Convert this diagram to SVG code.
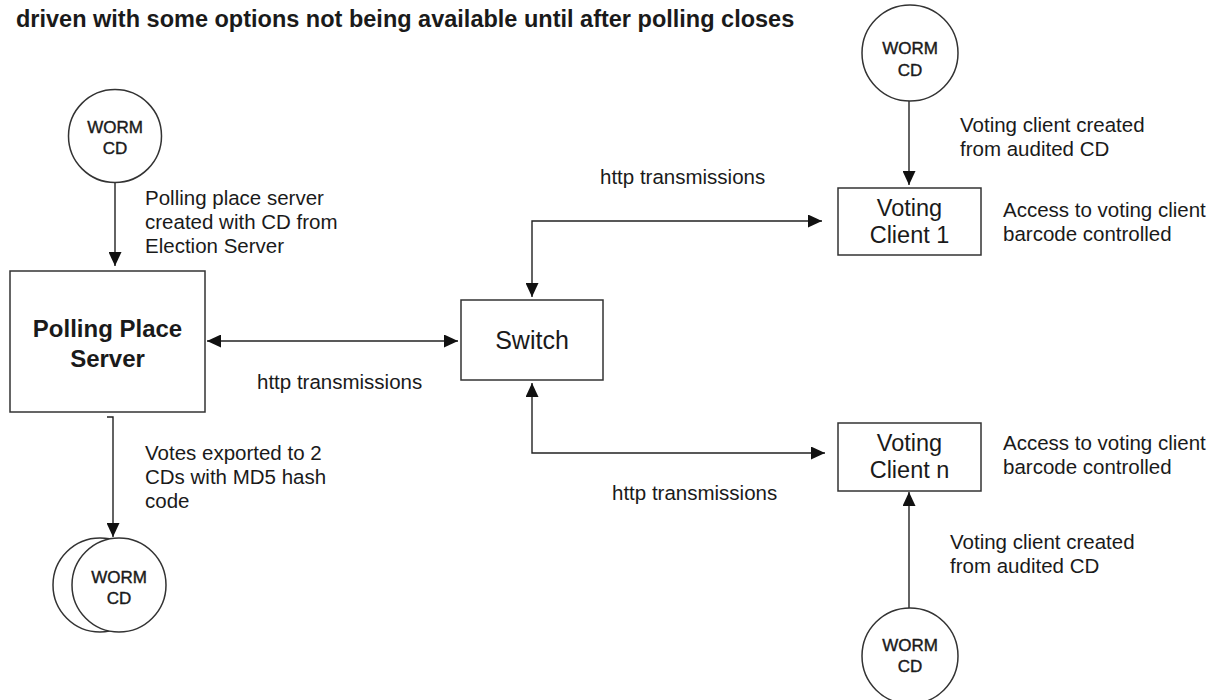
<svg xmlns="http://www.w3.org/2000/svg" width="1226" height="700" viewBox="0 0 1226 700">
<defs>
<style>
text{font-family:"Liberation Sans",Arial,Helvetica,sans-serif;fill:#1a1a1a}
.title{font-size:23.5px;font-weight:bold}
.lbl{font-size:20.5px}
.cd{font-size:17px;text-anchor:middle;stroke:#1a1a1a;stroke-width:0.4}
.box{fill:#fff;stroke:#333;stroke-width:1.5}
.disc{fill:#fff;stroke:#333;stroke-width:1.5}
.bold{font-size:24px;font-weight:bold;text-anchor:middle}
.vc{font-size:23.5px;text-anchor:middle}
.sw{font-size:25px;text-anchor:middle}
.conn{fill:none;stroke:#222;stroke-width:1.4}
</style>
<marker id="ah" viewBox="0 0 14 13" refX="14" refY="6.5" markerWidth="14" markerHeight="13" markerUnits="userSpaceOnUse" orient="auto-start-reverse">
<path d="M0,0 L14,6.5 L0,13 Z" fill="#111"/>
</marker>
</defs>
<rect width="1226" height="700" fill="#fff"/>
<text class="title" x="16" y="27">driven with some options not being available until after polling closes</text>

<g id="connectors">
<path class="conn" d="M115,183 V266" marker-end="url(#ah)"/>
<path class="conn" d="M107,417 H113 V537" marker-end="url(#ah)"/>
<path class="conn" d="M207,341 H458" marker-start="url(#ah)" marker-end="url(#ah)"/>
<path class="conn" d="M532,297 V221 H822" marker-start="url(#ah)" marker-end="url(#ah)"/>
<path class="conn" d="M532,383 V453 H825" marker-start="url(#ah)" marker-end="url(#ah)"/>
<path class="conn" d="M909,101 V185" marker-end="url(#ah)"/>
<path class="conn" d="M909,608 V492" marker-end="url(#ah)"/>
<text class="lbl" x="600" y="184">http transmissions</text>
<text class="lbl" x="257" y="389">http transmissions</text>
<text class="lbl" x="612" y="500">http transmissions</text>
<text class="lbl" x="145" y="205">Polling place server</text>
<text class="lbl" x="145" y="229">created with CD from</text>
<text class="lbl" x="145" y="253">Election Server</text>
<text class="lbl" x="145" y="460">Votes exported to 2</text>
<text class="lbl" x="145" y="484">CDs with MD5 hash</text>
<text class="lbl" x="145" y="508">code</text>
<text class="lbl" x="960" y="132">Voting client created</text>
<text class="lbl" x="960" y="156">from audited CD</text>
<text class="lbl" x="950" y="549">Voting client created</text>
<text class="lbl" x="950" y="573">from audited CD</text>
</g>

<g id="worm-cd-server">
<circle class="disc" cx="115" cy="136" r="46.5"/>
<text class="cd" x="115" y="133">WORM</text>
<text class="cd" x="115" y="154">CD</text>
</g>

<g id="polling-place-server">
<rect class="box" x="10" y="271" width="195" height="141"/>
<text class="bold" x="107.5" y="337">Polling Place</text>
<text class="bold" x="107.5" y="367">Server</text>
</g>

<g id="worm-cd-export">
<circle class="disc" cx="100" cy="585" r="47"/>
<circle class="disc" cx="119" cy="585" r="47"/>
<text class="cd" x="119" y="583">WORM</text>
<text class="cd" x="119" y="604">CD</text>
</g>

<g id="switch">
<rect class="box" x="461" y="300" width="142" height="80"/>
<text class="sw" x="532" y="349">Switch</text>
</g>

<g id="worm-cd-client1">
<circle class="disc" cx="910" cy="53" r="48"/>
<text class="cd" x="910" y="54">WORM</text>
<text class="cd" x="910" y="76">CD</text>
</g>

<g id="voting-client-1">
<rect class="box" x="838" y="188" width="143" height="67"/>
<text class="vc" x="909.5" y="216">Voting</text>
<text class="vc" x="909.5" y="243">Client 1</text>
<text class="lbl" x="1003" y="217">Access to voting client</text>
<text class="lbl" x="1003" y="241">barcode controlled</text>
</g>

<g id="voting-client-n">
<rect class="box" x="838" y="423" width="143" height="68"/>
<text class="vc" x="909.5" y="451">Voting</text>
<text class="vc" x="909.5" y="478">Client n</text>
<text class="lbl" x="1003" y="450">Access to voting client</text>
<text class="lbl" x="1003" y="474">barcode controlled</text>
</g>

<g id="worm-cd-clientn">
<circle class="disc" cx="910" cy="656" r="48"/>
<text class="cd" x="910" y="651">WORM</text>
<text class="cd" x="910" y="672">CD</text>
</g>
</svg>
